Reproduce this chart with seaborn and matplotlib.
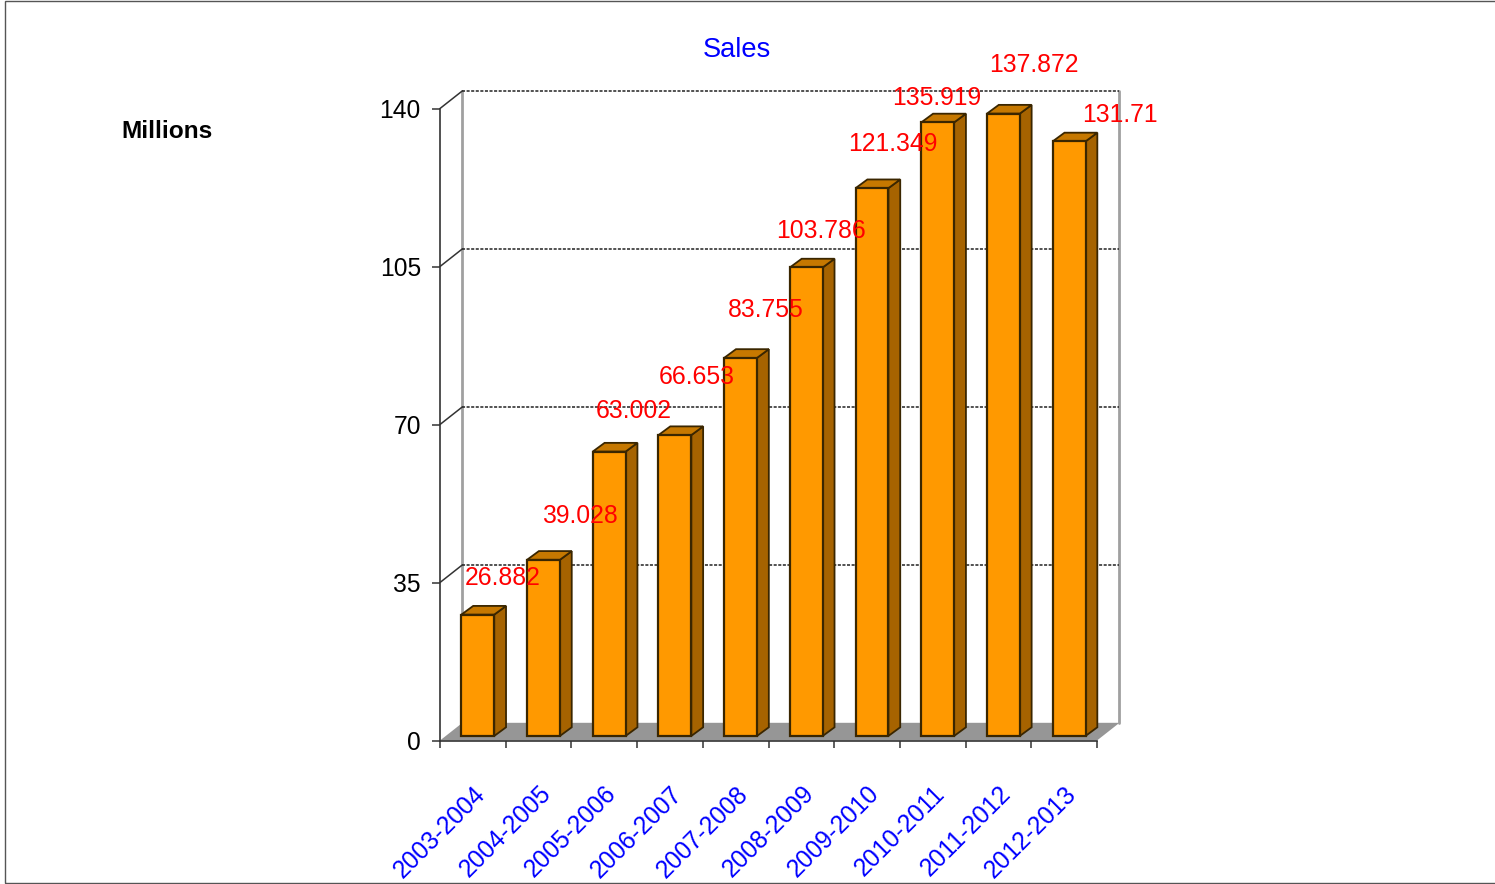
"""Sales per financial year, drawn as a pseudo 3D bar chart"""
import pandas as pd
import matplotlib.pyplot as plt
from matplotlib.patches import Polygon, Rectangle
import seaborn as sns

sns.set_style("white")
plt.rcParams["font.family"] = ["Liberation Sans", "DejaVu Sans"]
plt.rcParams["figure.dpi"] = 100

YEARS = [
    "2003-2004", "2004-2005", "2005-2006", "2006-2007", "2007-2008",
    "2008-2009", "2009-2010", "2010-2011", "2011-2012", "2012-2013",
]
SALES = [26.882, 39.028, 63.002, 66.653, 83.755, 103.786, 121.349, 135.919, 137.872, 131.71]
SALES_LABELS = ["26.882", "39.028", "63.002", "66.653", "83.755", "103.786", "121.349", "135.919", "137.872", "131.71"]
Y_TICKS = [0, 35, 70, 105, 140]

# label position relative to the bar top, in pixels
LABEL_SHIFT = [(25, 37), (36, 44), (25, 41), (22, 58), (25, 48), (15, 36), (21, 44), (-1, 24), (30, 49), (51, 26)]

# depth of the fake 3D box and of each bar, in data units
WALL_DX, WALL_DY = 0.342, 3.92
BAR_DX, BAR_DY = 0.18, 1.93
# bars stand a bit behind the front edge of the floor
BAR_SHIFT_X, BAR_SHIFT_Y = 0.075, 1.0

ORANGE = "#FF9900"
TOP = "#C67800"
SIDE = "#A66300"
EDGE = "#3A2600"

W, H = 1495, 884
fig = plt.figure(figsize=(W / 100, H / 100), dpi=100)
ax = fig.add_axes([440 / W, (H - 740.5) / H, 657 / W, 632 / H])

df = pd.DataFrame({"year": YEARS, "sales": SALES})
sns.barplot(
    data=df, x="year", y="sales", color=ORANGE, saturation=1, width=0.5,
    edgecolor=EDGE, linewidth=1.6, zorder=5, ax=ax,
)
ax.set_xlim(-0.5, 9.5)
ax.set_ylim(0, 140)
ax.set_xlabel("")
ax.set_ylabel("")

x0, x1 = -0.5, 9.5

# floor
ax.add_patch(Polygon(
    [(x0, 0), (x1, 0), (x1 + WALL_DX, WALL_DY), (x0 + WALL_DX, WALL_DY)],
    closed=True, facecolor="#969696", edgecolor="none", clip_on=False, zorder=1,
))

# back wall edges
for wall_x in [x0 + WALL_DX, x1 + WALL_DX]:
    ax.plot([wall_x, wall_x], [WALL_DY, 140 + WALL_DY], color="#A0A0A0", lw=2, clip_on=False, zorder=2)

# grid lines on the back wall plus the slanted part on the side wall
for tick in Y_TICKS[1:]:
    ax.plot([x0 + WALL_DX, x1 + WALL_DX], [tick + WALL_DY] * 2, color="#222222", lw=1.1,
            ls=(0, (2, 1)), clip_on=False, zorder=3)
    ax.plot([x0, x0 + WALL_DX], [tick, tick + WALL_DY], color="#333333", lw=1.1, clip_on=False, zorder=3)

# move the bars back and add side + top faces
for patch, value in zip(ax.patches[:len(SALES)], SALES):
    patch.set_x(patch.get_x() + BAR_SHIFT_X)
    patch.set_y(BAR_SHIFT_Y)
    left = patch.get_x()
    right = left + patch.get_width()
    top = BAR_SHIFT_Y + value
    ax.add_patch(Polygon(
        [(right, BAR_SHIFT_Y), (right + BAR_DX, BAR_SHIFT_Y + BAR_DY), (right + BAR_DX, top + BAR_DY), (right, top)],
        closed=True, facecolor=SIDE, edgecolor=EDGE, lw=1.3, clip_on=False, zorder=4,
    ))
    ax.add_patch(Polygon(
        [(left, top), (right, top), (right + BAR_DX, top + BAR_DY), (left + BAR_DX, top + BAR_DY)],
        closed=True, facecolor=TOP, edgecolor=EDGE, lw=1.3, clip_on=False, zorder=4,
    ))

# value labels
for i, (value, text, shift) in enumerate(zip(SALES, SALES_LABELS, LABEL_SHIFT)):
    ax.annotate(
        text, xy=(i + BAR_SHIFT_X, value + BAR_SHIFT_Y), xytext=shift, textcoords="offset pixels",
        ha="center", va="center", color="red", fontsize=17.8, zorder=10, annotation_clip=False,
    )

# axes
for side in ["top", "right"]:
    ax.spines[side].set_visible(False)
for side in ["left", "bottom"]:
    ax.spines[side].set_color("#333333")
    ax.spines[side].set_linewidth(1.2)
    ax.spines[side].set_zorder(6)

ax.set_yticks(Y_TICKS)
ax.tick_params(axis="y", which="major", left=True, length=5.8, width=1.1, color="#333333",
               labelsize=17.7, labelcolor="black", pad=8)
ax.set_xticks(range(len(YEARS)))
ax.set_xticklabels(YEARS, rotation=45, ha="right", rotation_mode="anchor")
ax.set_xticks([i - 0.5 for i in range(len(YEARS) + 1)], minor=True)
ax.tick_params(axis="x", which="major", bottom=False, labelsize=17.7, labelcolor="#0000FF", pad=26)
ax.tick_params(axis="x", which="minor", bottom=True, length=5, width=1.1, color="#333333")

fig.text(737 / W, 1 - 50 / H, "Sales", color="#0000FF", fontsize=19.6, ha="center", va="center")
fig.text(121 / W, 1 - 132 / H, "Millions", color="black", fontsize=17.6, fontweight="bold", ha="left", va="center")

# slide border
fig.add_artist(Rectangle(
    (4.5 / W, 1 - 883 / H), 1500 / W, 882 / H, transform=fig.transFigure,
    facecolor="none", edgecolor="#555555", lw=1,
))

fig.savefig("out.png", dpi=100)
